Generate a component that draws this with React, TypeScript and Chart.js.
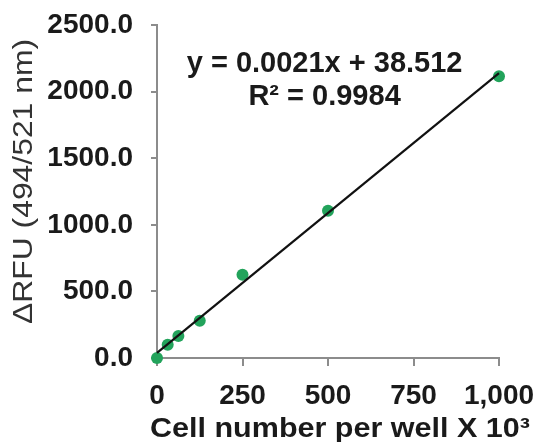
import React, { useEffect, useRef } from "react";
import { Chart, registerables } from "chart.js";

Chart.register(...registerables);

const cellNumbers = [0, 31.25, 62.5, 125, 250, 500, 1000];
const rfuValues = [0, 100, 165, 280, 625, 1105, 2115];
const trendSlope = 2.1; // 0.0021 per cell, x in thousands
const trendIntercept = 38.512;
const trendRange = [0, 1000];
const equationLines = ["y = 0.0021x + 38.512", "R² = 0.9984"];
const xTitle = "Cell number per well X 10³";
const yTitle = "ΔRFU (494/521 nm)";

const FONT = "'Liberation Sans', Arial, sans-serif";

export default function App() {
  const ref = useRef<HTMLCanvasElement | null>(null);
  useEffect(() => {
    if (!ref.current) return;
    const annot = {
      id: "annot",
      afterDraw(chart: any) {
        const { ctx, chartArea } = chart;
        ctx.save();
        ctx.fillStyle = "#1a1a1a";
        ctx.font = `bold 29px ${FONT}`;
        ctx.textAlign = "center";
        ctx.textBaseline = "alphabetic";
        const cx = chartArea.left + (chartArea.right - chartArea.left) * 0.49;
        ctx.fillText(equationLines[0], cx, chartArea.top + 47);
        ctx.fillText(equationLines[1], cx, chartArea.top + 80);

        // x axis title
        ctx.save();
        ctx.font = `bold 28px ${FONT}`;
        ctx.translate(chartArea.left + (chartArea.right - chartArea.left) * 0.535, chart.height - 5);
        ctx.scale(1.09, 1);
        ctx.fillText(xTitle, 0, 0);
        ctx.restore();

        // y axis title
        ctx.save();
        ctx.fillStyle = "#333";
        ctx.font = `27px ${FONT}`;
        ctx.textBaseline = "middle";
        ctx.translate(24.5, chartArea.top + (chartArea.bottom - chartArea.top) * 0.47);
        ctx.rotate(-Math.PI / 2);
        ctx.scale(1.18, 1);
        ctx.fillText(yTitle, 0, 0);
        ctx.restore();

        ctx.restore();
      },
    };
    const chart = new Chart(ref.current, {
      type: "scatter",
      data: {
        datasets: [
          {
            type: "line",
            data: trendRange.map((x) => ({ x, y: trendSlope * x + trendIntercept })),
            borderColor: "#111",
            borderWidth: 2.2,
            pointRadius: 0,
            showLine: true,
            clip: false,
          } as any,
          {
            data: cellNumbers.map((x, i) => ({ x, y: rfuValues[i] })),
            backgroundColor: "#22a35b",
            borderWidth: 0,
            pointRadius: 6,
            pointHoverRadius: 6,
            clip: false,
          },
        ],
      },
      options: {
        animation: false,
        responsive: false,
        layout: { padding: { left: 0, top: 25, right: 37, bottom: 0 } },
        plugins: { legend: { display: false }, tooltip: { enabled: false } },
        scales: {
          x: {
            type: "linear",
            min: 0,
            max: 1000,
            afterFit: (s: any) => {
              s.height = 84;
              s.paddingLeft = 0;
              s.paddingRight = 0;
            },
            ticks: {
              stepSize: 250,
              padding: 13,
              color: "#1a1a1a",
              font: { family: FONT, size: 28, weight: "bold" },
              callback: (v: any) => Number(v).toLocaleString("en-US"),
              maxRotation: 0,
            },
            grid: { drawOnChartArea: false, drawTicks: true, tickLength: 8, color: "#8c8c8c", lineWidth: 2 },
            border: { color: "#8c8c8c", width: 2 },
          },
          y: {
            type: "linear",
            min: 0,
            max: 2500,
            afterFit: (s: any) => {
              s.width = 157;
              s.paddingTop = 0;
              s.paddingBottom = 0;
            },
            ticks: {
              stepSize: 500,
              padding: 18,
              color: "#1a1a1a",
              font: { family: FONT, size: 28, weight: "bold" },
              callback: (v: any) => Number(v).toFixed(1),
            },
            grid: { drawOnChartArea: false, drawTicks: true, tickLength: 6, color: "#8c8c8c", lineWidth: 2 },
            border: { color: "#8c8c8c", width: 2 },
          },
        },
      },
      plugins: [annot],
    });
    return () => chart.destroy();
  }, []);
  return (
    <div style={{ position: "absolute", left: 0, top: 0, width: 536, height: 442, background: "#fff" }}>
      <canvas ref={ref} width={536} height={442} style={{ width: 536, height: 442 }} />
    </div>
  );
}
